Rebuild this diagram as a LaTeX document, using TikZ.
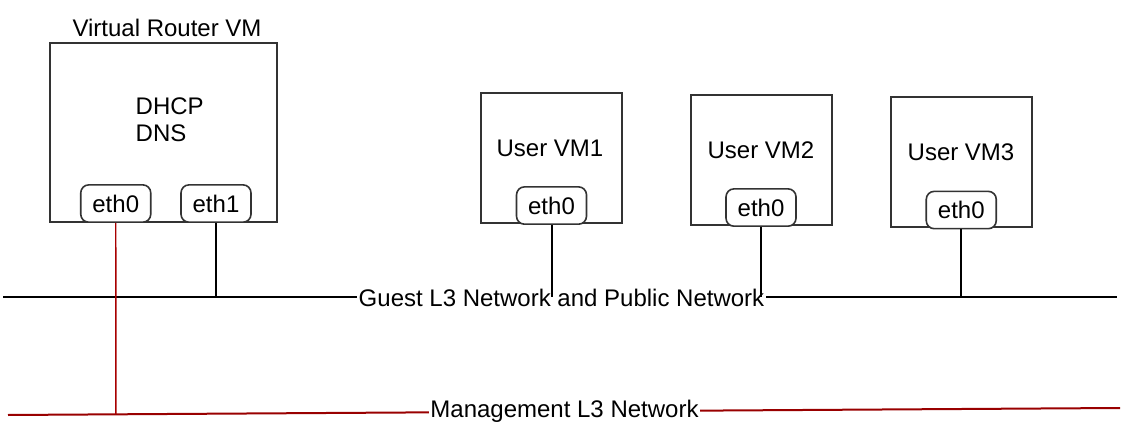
\documentclass[tikz,border=0pt]{standalone}
\usepackage{fontspec}
\setmainfont{Liberation Sans}
\usepackage{tikz}
\usetikzlibrary{positioning}
\definecolor{boxgray}{HTML}{333333}
\definecolor{mgmtred}{HTML}{990000}
\tikzset{vm/.style = {draw=boxgray, line width=1.5pt, minimum width=105.75pt, minimum height=97.5pt, inner sep=0pt}}
\tikzset{nic/.style = {draw=boxgray, line width=1.2pt, rounded corners=6pt, minimum width=52.5pt, minimum height=28pt, inner sep=0pt, fill=white}}
\tikzset{netline/.style = {line width=1.5pt}}
\tikzset{netlabel/.style = {fill=white, inner sep=1pt}}

\begin{document}
\begin{tikzpicture}[x=0.75pt, y=-0.75pt, font=\fontsize{18}{21}\selectfont]
	\useasboundingbox (0,0) rectangle (1126,441);
	% virtual router
	\node[vm, minimum width=170.25pt, minimum height=134.25pt] (router) at (163.5,132.5) {};
	\node (routertitle) at (167,28) {Virtual Router VM};
	\node[align=left, anchor=west, font=\fontsize{18}{20.25}\selectfont] (services) at (131,119.5) {DHCP\\DNS};
	\node[nic, anchor=south] (reth0) at (115.75,223) {eth0};
	\node[nic, anchor=south] (reth1) at (216,223) {eth1};
	% user vms
	\node[vm] (vm1) at (551.5,158) {};
	\node (vm1name) at (550,148) {User VM1};
	\node[nic, anchor=south] (vm1eth) at ([yshift=-0.75pt]vm1.south) {eth0};
	\node[vm] (vm2) at (761,160) {};
	\node (vm2name) at (761,150) {User VM2};
	\node[nic, anchor=south] (vm2eth) at ([yshift=-0.75pt]vm2.south) {eth0};
	\node[vm] (vm3) at (961.25,162.5) {};
	\node (vm3name) at (961,152) {User VM3};
	\node[nic, anchor=south] (vm3eth) at ([yshift=-0.75pt]vm3.south) {eth0};
	% guest network
	\coordinate (guestL) at (3,297);
	\coordinate (guestR) at (1117,297);
	\draw[netline] (guestL) -- (guestR);
	\node[netlabel] (guest) at (561.5,298) {Guest L3 Network and Public Network};
	\draw[netline] (reth1.south) -- (reth1.south |- guestL);
	\draw[netline] (vm1eth.south) -- (vm1eth.south |- guestL);
	\draw[netline] (vm2eth.south) -- (vm2eth.south |- guestL);
	\draw[netline] (vm3eth.south) -- (vm3eth.south |- guestL);
	% management network
	\coordinate (mgmtL) at (8,415);
	\coordinate (mgmtR) at (1120,408);
	\draw[netline, draw=mgmtred] (mgmtL) -- (mgmtR) coordinate[pos=0.097] (tap);
	\node[netlabel] (mgmt) at (564.5,411) {Management L3 Network};
	\draw[line width=1.1pt, draw=mgmtred!85!red] (reth0.south) -- (tap);
\end{tikzpicture}
\end{document}
